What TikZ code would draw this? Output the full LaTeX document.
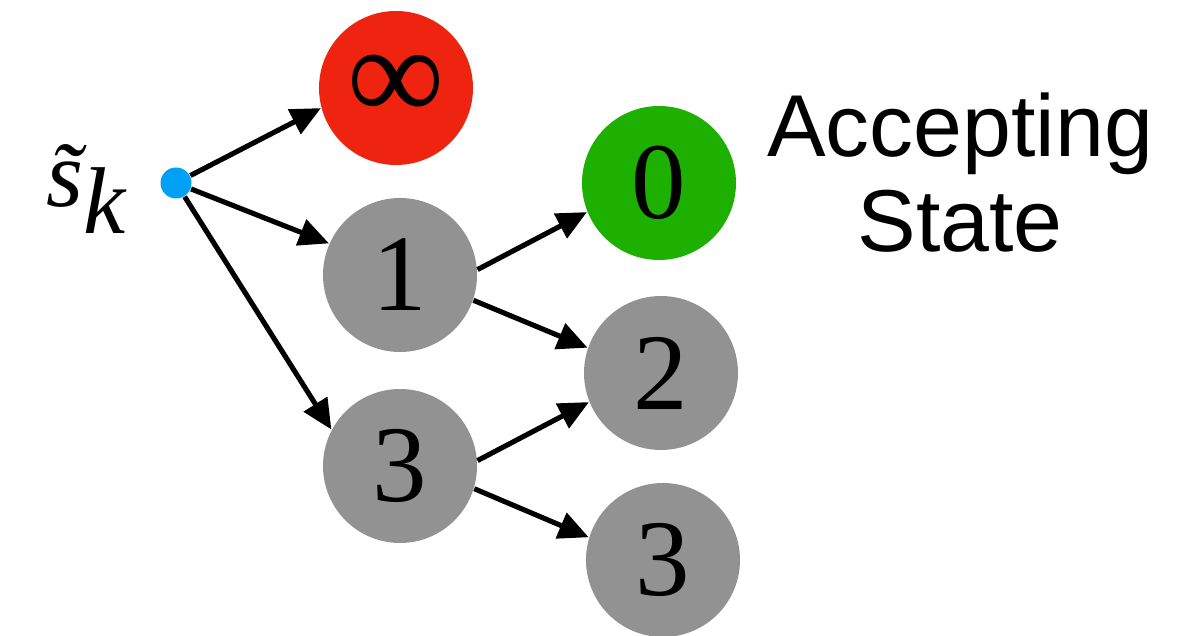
\documentclass[tikz,border=0pt]{standalone}
\usepackage{fontspec}
\setmainfont{Liberation Serif}
\newfontfamily\labelsans{Liberation Sans}
\usetikzlibrary{arrows.meta}
\definecolor{costred}{RGB}{238,35,16}
\definecolor{costgreen}{RGB}{30,176,0}
\definecolor{costgray}{RGB}{146,146,146}
\definecolor{rootblue}{RGB}{0,160,245}
\tikzset{
  costnode/.style={circle, minimum size=1.54cm, inner sep=0pt,
    font=\fontsize{31}{31}\selectfont, fill=costgray},
  costarrow/.style={-{Triangle[length=3mm, width=2.7mm]}, line width=1.45pt},
  costlabel/.style={font=\labelsans\fontsize{25}{27}\selectfont, align=center},
}

\begin{document}
\begin{tikzpicture}
  \useasboundingbox (0,0) rectangle (11.95,6.35);
  % root and its label
  \node[circle, fill=rootblue, minimum size=3.1mm, inner sep=0pt] (root) at (1.76,4.52) {};
  \node[font=\fontsize{27}{27}\selectfont\itshape] (rootlabel) at (0.86,4.46)
    {\~{s}\raisebox{-0.28em}{k}};
  % first step
  \node[costnode, fill=costred] (inf) at (3.96,5.47) {\scalebox{1.25}{∞}};
  \node[costnode] (one) at (4.00,3.60) {1};
  \node[costnode] (three) at (4.00,1.69) {3};
  % second step
  \node[costnode, fill=costgreen] (zero) at (6.59,4.52) {0};
  \node[costnode] (two) at (6.61,2.62) {2};
  \node[costnode] (threeb) at (6.63,0.75) {3};
  \node[costlabel] (accept) at (9.60,4.62) {Accepting\\State};
  \draw[costarrow] (root) -- (inf.195);
  \draw[costarrow] (root) -- (one.156);
  \draw[costarrow] (root) -- (three.152);
  \draw[costarrow] (one.4) -- (zero.202);
  \draw[costarrow] (one.341) -- (two.161);
  \draw[costarrow] (three.4) -- (two.202);
  \draw[costarrow] (three.343) -- (threeb.163);
\end{tikzpicture}
\end{document}
